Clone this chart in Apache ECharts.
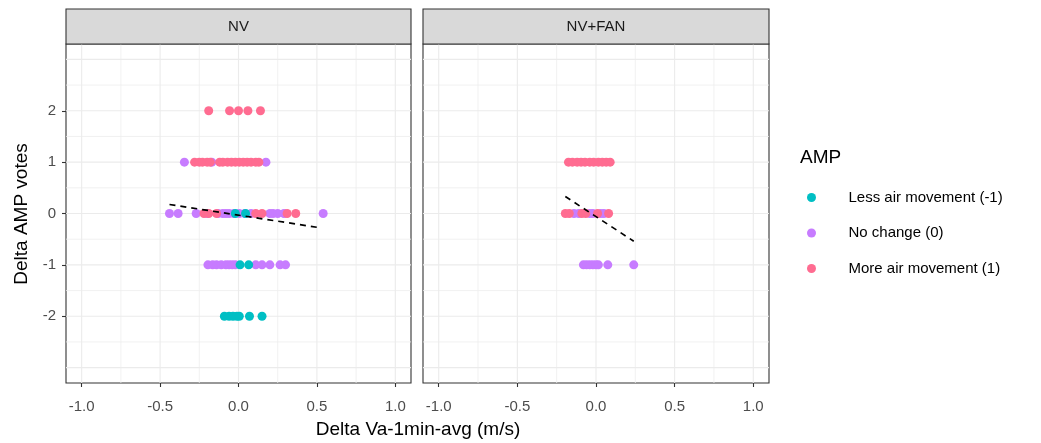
<!DOCTYPE html>
<html>
<head>
<meta charset="utf-8">
<script src="https://cdn.jsdelivr.net/npm/echarts@6/dist/echarts.min.js"></script>
<style>
  html, body { margin: 0; padding: 0; background: #ffffff; }
  #chart { width: 1041px; height: 443px; }
</style>
</head>
<body>
<div id="chart"></div>
<script>
// Panel names and legend categories
const panels = ['NV', 'NV+FAN'];
const categories = ['Less air movement (-1)', 'No change (0)', 'More air movement (1)'];
const colors = ['#00BFC4', '#C77CFF', '#FF6C91'];

// Axis breaks and limits
const xTicks = [-1, -0.5, 0, 0.5, 1];
const xMinor = [-0.75, -0.25, 0.25, 0.75];
const yTicks = [-2, -1, 0, 1, 2];
const yMajorGrid = [-3, -2, -1, 0, 1, 2, 3];
const yMinorGrid = [-2.5, -1.5, -0.5, 0.5, 1.5, 2.5];
const xLimits = [-1.1, 1.1];
const yLimits = [-3.3, 3.3];

// NV panel: [delta air speed, delta AMP vote]
const nvLess = [
  [-0.02, 0], [0.045, 0],
  [0.01, -1], [0.065, -1],
  [-0.09, -2], [-0.06, -2], [-0.035, -2], [-0.01, -2], [0.005, -2], [0.07, -2], [0.15, -2]
];
const nvNoChange = [
  [-0.345, 1], [-0.17, 1], [0.175, 1],
  [-0.44, 0], [-0.385, 0], [-0.27, 0], [-0.2, 0], [-0.13, 0], [-0.1, 0], [-0.08, 0], [-0.06, 0],
  [-0.03, 0], [0.005, 0], [0.04, 0], [0.08, 0], [0.2, 0], [0.22, 0], [0.25, 0], [0.29, 0], [0.54, 0],
  [-0.195, -1], [-0.165, -1], [-0.14, -1], [-0.11, -1], [-0.08, -1], [-0.06, -1], [-0.04, -1], [-0.02, -1],
  [0.11, -1], [0.15, -1], [0.2, -1], [0.265, -1], [0.3, -1]
];
const nvMore = [
  [-0.19, 2], [-0.057, 2], [0.0, 2], [0.06, 2], [0.14, 2],
  [-0.28, 1], [-0.25, 1], [-0.23, 1], [-0.2, 1], [-0.18, 1], [-0.12, 1], [-0.1, 1], [-0.07, 1],
  [-0.045, 1], [-0.02, 1], [0.005, 1], [0.03, 1], [0.055, 1], [0.08, 1], [0.11, 1], [0.13, 1],
  [-0.22, 0], [-0.19, 0], [-0.14, 0], [0.11, 0], [0.15, 0], [0.31, 0], [0.365, 0]
];

// NV+FAN panel
const fanLess = [];
const fanNoChange = [
  [-0.14, 0], [-0.11, 0], [-0.04, 0], [-0.02, 0], [0.03, 0], [0.05, 0],
  [-0.08, -1], [-0.06, -1], [-0.04, -1], [-0.02, -1], [0.0, -1], [0.015, -1], [0.075, -1], [0.24, -1]
];
const fanMore = [
  [-0.175, 1], [-0.15, 1], [-0.12, 1], [-0.095, 1], [-0.07, 1], [-0.04, 1], [-0.015, 1],
  [0.015, 1], [0.04, 1], [0.065, 1], [0.09, 1],
  [-0.195, 0], [-0.17, 0], [-0.09, 0], [-0.065, 0], [0.01, 0], [0.08, 0]
];

// Linear fit end points per panel
const nvFit = [[-0.44, 0.175], [0.505, -0.27]];
const fanFit = [[-0.195, 0.33], [0.24, -0.54]];

const panelData = [
  { less: nvLess, none: nvNoChange, more: nvMore, fit: nvFit },
  { less: fanLess, none: fanNoChange, more: fanMore, fit: fanFit }
];

const FONT = '"Liberation Sans", Arial, sans-serif';
const gridBoxes = [
  { left: 66, top: 44, width: 345, height: 339 },
  { left: 423, top: 44, width: 346, height: 339 }
];

const grids = gridBoxes.map(b => ({
  left: b.left, top: b.top, width: b.width, height: b.height,
  show: true, backgroundColor: '#ffffff', borderColor: '#333333', borderWidth: 1.1,
  containLabel: false
}));

const xAxes = gridBoxes.map((b, i) => ({
  type: 'value', gridIndex: i, min: xLimits[0], max: xLimits[1], position: 'bottom',
  axisLine: { show: false, onZero: false },
  splitLine: { show: false },
  axisTick: { show: true, customValues: xTicks, length: 4, lineStyle: { color: '#333333', width: 1.1 } },
  axisLabel: {
    show: true, customValues: xTicks, margin: 16,
    color: '#4D4D4D', fontFamily: FONT, fontSize: 15,
    formatter: v => v.toFixed(1)
  }
}));

const yAxes = gridBoxes.map((b, i) => ({
  type: 'value', gridIndex: i, min: yLimits[0], max: yLimits[1], position: 'left',
  axisLine: { show: false, onZero: false },
  splitLine: { show: false },
  axisTick: { show: i === 0, customValues: yTicks, length: 4, lineStyle: { color: '#333333', width: 1.1 } },
  axisLabel: {
    show: i === 0, customValues: yTicks, margin: 10,
    color: '#4D4D4D', fontFamily: FONT, fontSize: 15,
    formatter: v => String(v)
  }
}));

// Panel grid lines drawn inside the plotting rectangle
function gridLineSeries(i) {
  const lines = []
    .concat(xMinor.map(v => ['x', v, 0]))
    .concat(yMinorGrid.map(v => ['y', v, 0]))
    .concat(xTicks.map(v => ['x', v, 1]))
    .concat(yMajorGrid.map(v => ['y', v, 1]));
  return {
    type: 'custom', xAxisIndex: i, yAxisIndex: i, z: 0, silent: true,
    data: lines.map((l, k) => [k]),
    renderItem: function (params, api) {
      const l = lines[params.dataIndex];
      const cs = params.coordSys;
      let x1, y1, x2, y2;
      if (l[0] === 'x') {
        const px = api.coord([l[1], 0])[0];
        x1 = x2 = px; y1 = cs.y; y2 = cs.y + cs.height;
      } else {
        const py = api.coord([0, l[1]])[1];
        y1 = y2 = py; x1 = cs.x; x2 = cs.x + cs.width;
      }
      return {
        type: 'line',
        shape: { x1: x1, y1: y1, x2: x2, y2: y2 },
        style: { stroke: l[2] ? '#EBEBEB' : '#EEEEEE', lineWidth: l[2] ? 1.1 : 0.8 }
      };
    }
  };
}

const series = [];
panelData.forEach((p, i) => {
  series.push(gridLineSeries(i));
  const order = [[1, p.none], [2, p.more], [0, p.less]];
  order.forEach(([ci, d]) => {
    series.push({
      name: categories[ci], type: 'scatter', xAxisIndex: i, yAxisIndex: i,
      data: d, symbol: 'circle', symbolSize: 9, z: 3,
      itemStyle: { color: colors[ci], opacity: 1 },
      emphasis: { disabled: true }
    });
  });
  series.push({
    type: 'line', xAxisIndex: i, yAxisIndex: i, data: p.fit, z: 4,
    symbol: 'none', silent: true,
    lineStyle: { color: '#000000', width: 1.7, type: [6, 5] }
  });
});

const graphics = [];
gridBoxes.forEach((b, i) => {
  graphics.push({
    type: 'rect', shape: { x: b.left, y: 9, width: b.width, height: 35 },
    style: { fill: '#D9D9D9', stroke: '#333333', lineWidth: 1.1 }, z: 10
  });
  graphics.push({
    type: 'text', x: b.left + b.width / 2, y: 27,
    style: { text: panels[i], fontFamily: FONT, fontSize: 15, fill: '#1A1A1A', align: 'center', verticalAlign: 'middle' },
    z: 11
  });
});
graphics.push({
  type: 'text', x: 418, y: 430,
  style: { text: 'Delta Va-1min-avg (m/s)', fontFamily: FONT, fontSize: 19, fill: '#000000', align: 'center', verticalAlign: 'middle' }
});
graphics.push({
  type: 'text', x: 22, y: 214, rotation: Math.PI / 2,
  style: { text: 'Delta AMP votes', fontFamily: FONT, fontSize: 19, fill: '#000000', align: 'center', verticalAlign: 'middle' }
});
graphics.push({
  type: 'text', x: 800, y: 158,
  style: { text: 'AMP', fontFamily: FONT, fontSize: 19, fill: '#000000', align: 'left', verticalAlign: 'middle' }
});

const chart = echarts.init(document.getElementById('chart'), null, { renderer: 'canvas' });
chart.setOption({
  animation: false,
  backgroundColor: '#ffffff',
  grid: grids,
  xAxis: xAxes,
  yAxis: yAxes,
  legend: {
    orient: 'vertical', left: 802, top: 184,
    data: categories.map(n => ({ name: n, icon: 'circle' })),
    itemWidth: 64, itemHeight: 9, itemGap: 18.5,
    selectedMode: false,
    textStyle: { fontFamily: FONT, fontSize: 15, color: '#000000', lineHeight: 17 }
  },
  graphic: graphics,
  series: series
});
</script>
</body>
</html>
